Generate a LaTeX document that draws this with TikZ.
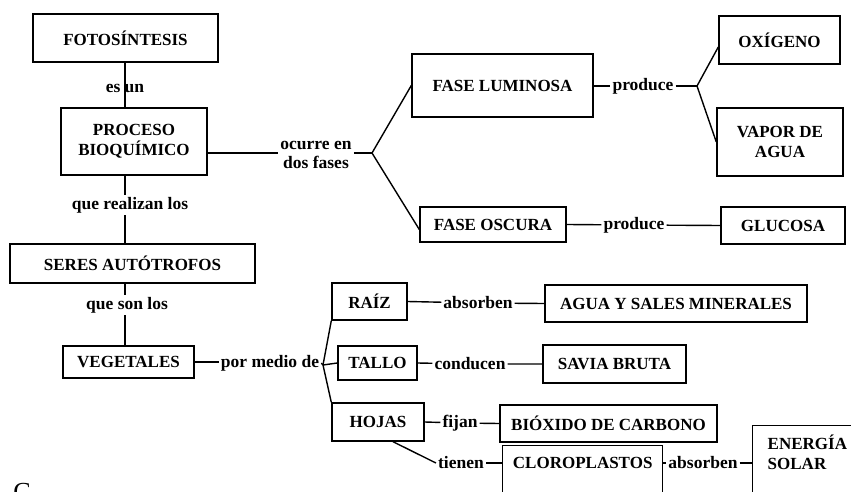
\documentclass[tikz,border=0pt]{standalone}
\usepackage{fontspec}
\setmainfont{Liberation Serif}
\usepackage{tikz}
\usetikzlibrary{calc}
\usetikzlibrary{positioning}

\tikzset{
  concept/.style={draw, line width=1.4pt, align=center, inner sep=2pt,
    font=\fontsize{17}{20}\selectfont\bfseries},
  link/.style={inner sep=2pt, align=center,
    font=\fontsize{17.5}{19}\selectfont\bfseries},
  wire/.style={line width=1.4pt}
}

\begin{document}
\begin{tikzpicture}[x=1pt, y=-1pt]

    \useasboundingbox (0, 0) rectangle (851, 492);
    \clip (0, 0) rectangle (851, 492);

    % left column
    \node [concept, minimum width=185, minimum height=48] (foto) at (125.5, 38) {FOTOSÍNTESIS};
    \node [concept, minimum width=146, minimum height=67] (proc) at (134, 141.5) {PROCESO\\BIOQUÍMICO};
    \node [concept, minimum width=245, minimum height=39] (seres) at (132.5, 263.5) {SERES AUTÓTROFOS};
    \node [concept, minimum width=131, minimum height=32] (veg) at (128.5, 362) {VEGETALES};

    \node [link] (esun) at (125, 88) {es un};
    \node [link] (realizan) at (130, 205) {que realizan los};
    \node [link] (son) at (127, 305) {que son los};

    \draw [wire] (foto.south -| esun) -- (esun |- proc.north);
    \draw [wire] (proc.south -| esun) -- (realizan.north -| esun);
    \draw [wire] (realizan.south -| esun) -- (seres.north -| esun);
    \draw [wire] (seres.south -| esun) -- (son.north -| esun);
    \draw [wire] (son.south -| esun) -- (veg.north -| esun);

    % the two phases
    \node [link] (ocurre) at (316, 155) {ocurre en\\dos fases};
    \coordinate (fases) at (372, 153);
    \node [concept, minimum width=181, minimum height=63] (luz) at (502.5, 85.5) {FASE LUMINOSA};
    \node [concept, minimum width=146, minimum height=35] (osc) at (493, 224.5) {FASE OSCURA};

    \draw [wire] (proc.east |- fases) -- (fases -| ocurre.west);
    \draw [wire] (fases -| ocurre.east) -- (fases);
    \draw [wire] (luz.west) -- (fases) -- ([yshift=-5]osc.west);

    \node [link] (prod1) at (643, 86) {produce};
    \coordinate (prods) at (697, 86);
    \node [concept, minimum width=121, minimum height=48] (oxi) at (779.5, 40) {OXÍGENO};
    \node [concept, minimum width=126, minimum height=68] (vapor) at (780, 142) {VAPOR DE\\AGUA};

    \draw [wire] (luz.east |- prod1) -- (prod1.west);
    \draw [wire] (prod1.east) -- (prods);
    \draw [wire] ([yshift=-7]oxi.west) -- (prods) -- (vapor.west);

    \node [link] (prod2) at (634, 225) {produce};
    \node [concept, minimum width=124, minimum height=37] (glu) at (783, 225.5) {GLUCOSA};
    \draw [wire] (osc.east) -- (prod2) -- (glu.west);

    % parts of the plant
    \node [link] (medio) at (270, 363) {por medio de};
    \coordinate (partes) at (323, 365);
    \node [concept, minimum width=75, minimum height=37] (raiz) at (369.5, 301.5) {RAÍZ};
    \node [concept, minimum width=79, minimum height=34] (tallo) at (377.5, 363) {TALLO};
    \node [concept, minimum width=92, minimum height=38] (hojas) at (378, 422) {HOJAS};

    \draw [wire] (veg.east) -- (medio.west |- veg.east);
    \draw [wire] (medio.east) -- (partes);
    \draw [wire] (raiz.south west) -- (partes) -- (hojas.north west);
    \draw [wire] (partes) -- (tallo.west);

    \node [link] (abs1) at (478, 303) {absorben};
    \node [link] (cond) at (470, 364) {conducen};
    \node [link] (fijan) at (460, 423) {fijan};
    \node [concept, minimum width=262, minimum height=37] (agua) at (676, 303.5) {AGUA Y SALES MINERALES};
    \node [concept, minimum width=143, minimum height=38] (savia) at (614.5, 364) {SAVIA BRUTA};
    \node [concept, minimum width=217, minimum height=37] (biox) at (608.5, 423.5) {BIÓXIDO DE CARBONO};

    \foreach \p/\l/\q in {raiz/abs1/agua, tallo/cond/savia, hojas/fijan/biox}
      \draw [wire] (\p.east) -- (\l) -- (\q.west);

    \node [link] (tienen) at (461, 463) {tienen};
    \node [concept, anchor=north west, minimum width=160, text height=13pt,
      text depth=34pt, inner ysep=10pt] (cloro) at (502, 445) {CLOROPLASTOS};
    \node [link] (abs2) at (703, 463) {absorben};
    \node [concept, anchor=north west, minimum width=110, minimum height=90] (sol) at (752, 425) {};
    \node [concept, draw=none, anchor=north west, align=left, inner sep=0pt]
      (soltxt) at ([xshift=15, yshift=-9]sol.north west) {ENERGÍA\\SOLAR};

    \draw [wire] ([xshift=15]hojas.south) -- (tienen.west);
    \draw [wire] (tienen.east) -- (tienen.east -| cloro.west);
    \draw [wire] (abs2.west -| cloro.east) -- (abs2.west);
    \draw [wire] (abs2.east) -- (abs2.east -| sol.west);

    \node [inner sep=0pt, font=\fontsize{26}{28}\selectfont] (pag) at (22, 492) {C};

\end{tikzpicture}
\end{document}
